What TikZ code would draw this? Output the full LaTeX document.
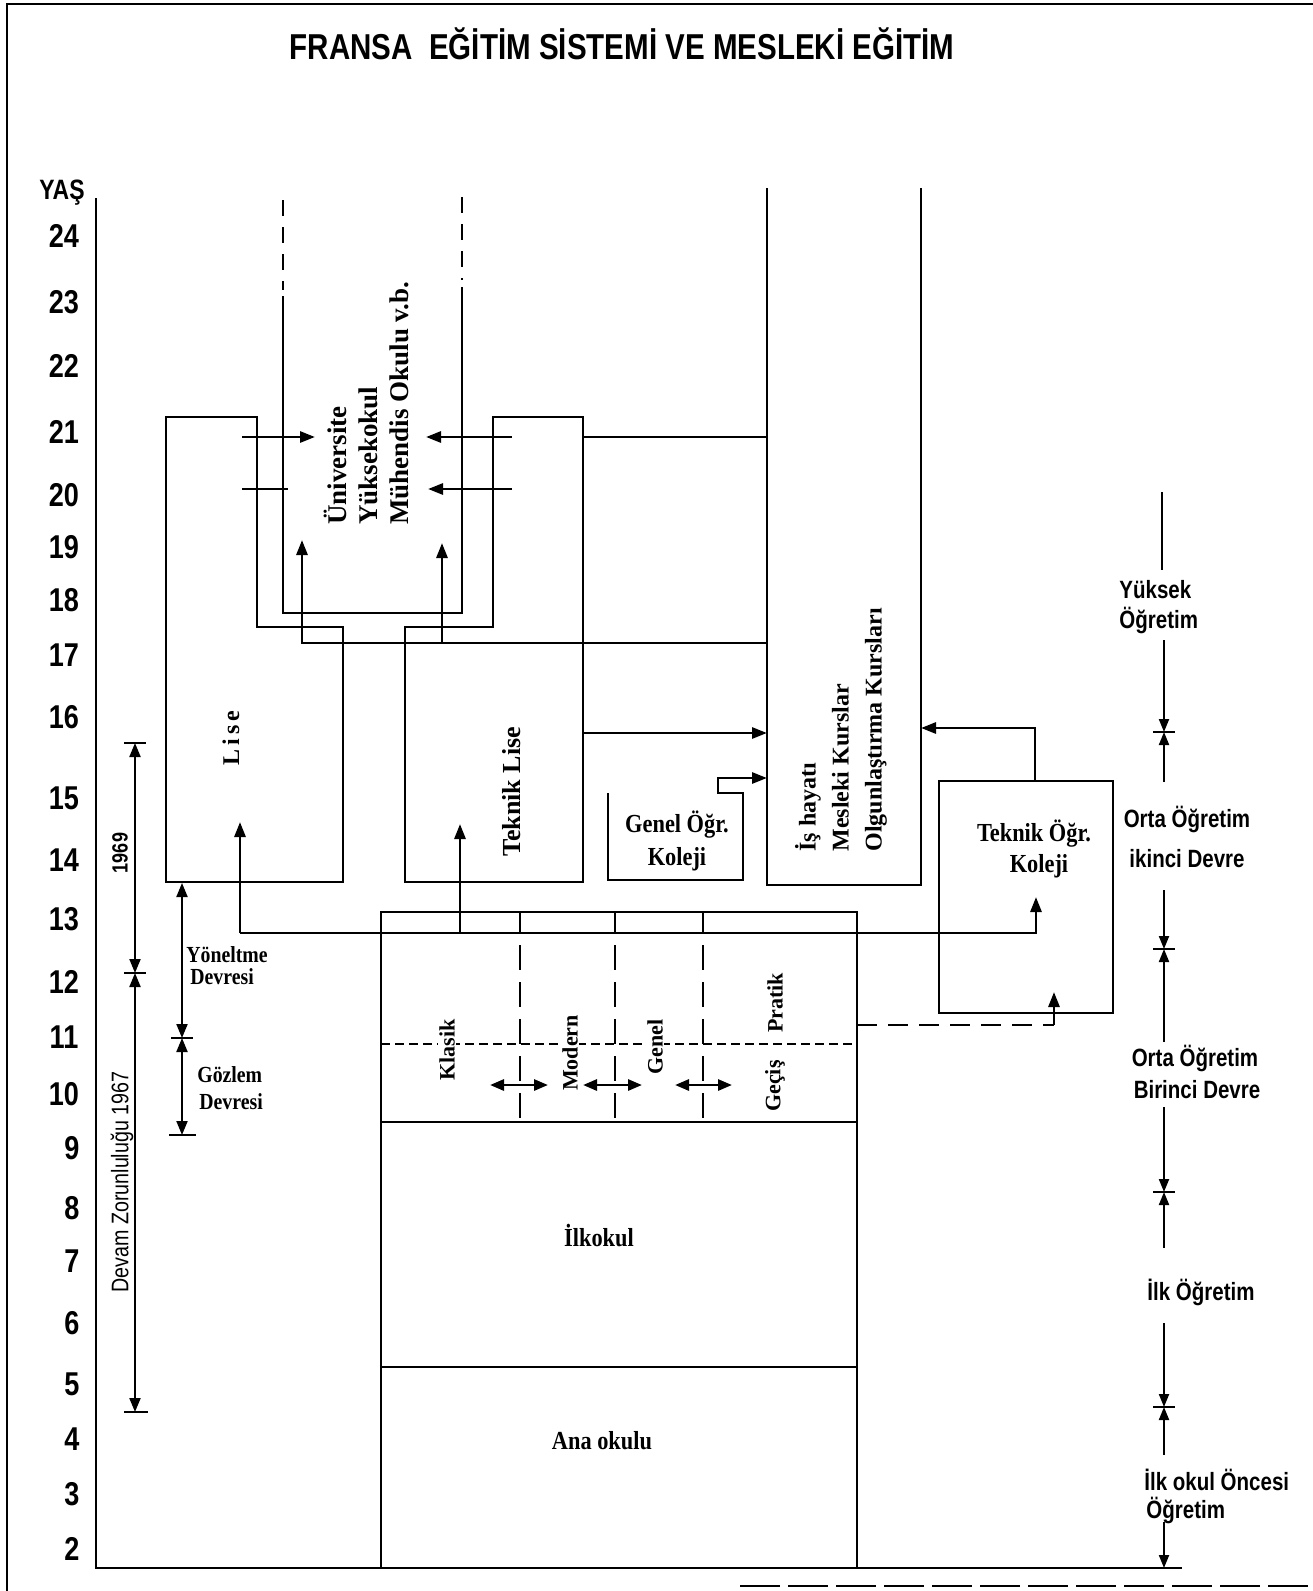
\documentclass[tikz,border=0pt]{standalone}
\usepackage{fontspec}
\setmainfont{Liberation Serif}
\newfontfamily\sansN{Liberation Sans}[FakeStretch=0.82]
\newfontfamily\serifN{Liberation Serif}[FakeStretch=0.86]
\usetikzlibrary{arrows.meta}
\newcommand{\fsz}[2]{\fontsize{#1}{#2}\selectfont}
\begin{document}
\begin{tikzpicture}[x=1pt,y=-1pt,line width=2.8pt,
  arr/.style={-{Triangle[length=15pt,width=11pt]}},
  darr/.style={{Triangle[length=14pt,width=11pt]}-{Triangle[length=14pt,width=11pt]}},
  tarr/.style={line width=2pt,-{Triangle[length=13pt,width=10pt]}},
  tick/.style={line width=2pt},
  agelbl/.style={font=\sansN\bfseries\fsz{33}{33}, text height=24pt, text depth=0pt, inner sep=0pt},
  sidelbl/.style={font=\sansN\bfseries\fsz{25}{25}, text height=18pt, text depth=0pt, inner sep=0pt},
  srf/.style={font=\serifN\bfseries\fsz{26}{26}, text height=17pt, text depth=0pt, inner sep=0pt},
  srfs/.style={font=\serifN\bfseries\fsz{23}{23}, text height=15pt, text depth=0pt, inner sep=0pt, anchor=west},
  vbold/.style={rotate=90, inner sep=0pt, align=left},
  stream/.style={rotate=90, font=\bfseries\fsz{22}{22}, fill=white, inner sep=1.5pt},
  dsh/.style={dash pattern=on 25pt off 12pt},
  topdash/.style={dash pattern=on 16pt off 11pt},
]
\useasboundingbox (0,0) rectangle (1313,1591);

% frame
\draw (7,1591) -- (7,4) -- (1313,4);
\draw[dash pattern=on 40pt off 8pt] (740,1586) -- (1313,1586);

% title
\node[font=\sansN\bfseries\fsz{36}{36}, text height=26pt, text depth=0pt, inner sep=0pt] (title) at (622,46) {FRANSA\ \ EĞİTİM SİSTEMİ VE MESLEKİ EĞİTİM};

% axis
\coordinate (axTop) at (96,198);
\coordinate (axO) at (96,1568);
\coordinate (axEnd) at (1182,1568);
\draw (axTop) -- (axO) -- (axEnd);
\node[font=\sansN\bfseries\fsz{28}{28}, text height=20pt, text depth=0pt, inner sep=0pt] (yas) at (62,189) {YAŞ};
\foreach \a/\y in {24/235,23/301,22/365,21/431,20/494,19/546,18/599,17/654,16/716,15/797,14/859,13/918,12/981,11/1036,10/1093}
  \node[agelbl] (age\a) at (64,\y) {\a};
\foreach \a/\y in {9/1147,8/1207,7/1260,6/1322,5/1383,4/1438,3/1493,2/1548}
  \node[agelbl] (age\a) at (72,\y) {\a};

% Lise
\draw (166,882) -- (166,417) -- (257,417) -- (257,627) -- (343,627) -- (343,882) -- cycle;
\node[rotate=90, font=\bfseries\fsz{24}{24}, inner sep=0pt] (lise) at (231,738) {L\,i\,s\,e};

% Universite
\draw[topdash] (283,200) -- (283,290);
\draw (283,296) -- (283,613) -- (462,613) -- (462,287);
\draw[topdash] (462,197) -- (462,280);
\node[vbold, anchor=west, font=\bfseries\fsz{27}{31}] (univ) at (366,526) {Üniversite\\Yüksekokul\\Mühendis Okulu v.b.};

% Teknik Lise
\draw (583,882) -- (583,417) -- (493,417) -- (493,627) -- (405,627) -- (405,882) -- cycle;
\node[rotate=90, font=\bfseries\fsz{26}{26}, inner sep=0pt] (tlise) at (512,792) {Teknik Lise};

% Genel Ogr. Koleji
\draw[arr] (608,793) -- (608,880) -- (743,880) -- (743,793) -- (718,793) -- (718,778) -- (767,778);
\node[srf] (genel1) at (677,824) {Genel Öğr.};
\node[srf] (genel2) at (677,857) {Koleji};

% Is hayati
\draw (767,188) -- (767,885) -- (921,885) -- (921,188);
\node[vbold, anchor=west, font=\bfseries\fsz{24}{33}] (is) at (841,853) {İş hayatı\\Mesleki Kurslar\\Olgunlaştırma Kursları};

% Teknik Ogr. Koleji
\draw (939,781) rectangle (1113,1013);
\node[srf] (tok1) at (1034,833) {Teknik Öğr.};
\node[srf] (tok2) at (1039,864) {Koleji};
\draw[arr] (1035,781) -- (1035,728) -- (921,728);

% connectors upper part
\draw (583,437) -- (767,437);
\draw[arr] (242,437) -- (315,437);
\draw (242,489) -- (288,489);
\draw[arr] (512,437) -- (426,437);
\draw[arr] (512,489) -- (428,489);
\draw[arr] (767,643) -- (302,643) -- (302,540);
\draw[arr] (442,643) -- (442,543);
\draw[arr] (583,733) -- (767,733);

% lower block
\draw (381,1568) -- (381,912) -- (857,912) -- (857,1568);
\draw[arr] (240,933) -- (240,822);
\draw[arr] (240,933) -- (1036,933) -- (1036,897);
\draw[arr] (460,933) -- (460,824);
\draw (520,912) -- (520,933);
\draw (615,912) -- (615,933);
\draw (703,912) -- (703,933);
\draw (381,1122) -- (857,1122);
\draw (381,1367) -- (857,1367);
\draw[dsh, line width=2.2pt] (520,945) -- (520,1122);
\draw[dsh, line width=2.2pt] (615,945) -- (615,1122);
\draw[dsh, line width=2.2pt] (703,945) -- (703,1122);
\draw[dash pattern=on 9pt off 5pt, line width=2.2pt] (381,1044) -- (857,1044);
\draw[dash pattern=on 20pt off 11pt] (857,1025) -- (1054,1025);
\draw[arr] (1054,1025) -- (1054,992);
\draw[darr] (490,1085) -- (548,1085);
\draw[darr] (583,1085) -- (642,1085);
\draw[darr] (675,1085) -- (732,1085);
\node[stream] (klasik) at (447,1050) {Klasik};
\node[stream] (modern) at (570,1053) {Modern};
\node[stream] (genel) at (655,1047) {Genel};
\node[stream] (pratik) at (775,1003) {Pratik};
\node[stream] (gecis) at (775,1086) {Geçiş};
\node[srf] (ilkokul) at (599,1238) {İlkokul};
\node[srf] (anaokulu) at (602,1441) {Ana okulu};

% left dimensions
\draw[darr, line width=2pt] (135,743) -- (135,973);
\draw[darr, line width=2pt] (135,973) -- (135,1412);
\draw[tick] (124,743) -- (146,743);
\draw[tick] (124,973) -- (146,973);
\draw[tick] (124,1412) -- (148,1412);
\node[rotate=90, font=\sansN\bfseries\fsz{22}{22}, inner sep=0pt] (y1969) at (120,853) {1969};
\node[rotate=90, font=\sansN\fsz{24}{24}, inner sep=0pt] (devam) at (122,1182) {Devam Zorunluluğu 1967};

\draw[darr, line width=2pt] (182,883) -- (182,1038);
\draw[darr, line width=2pt] (182,1038) -- (182,1135);
\draw[tick] (171,1038) -- (193,1038);
\draw[tick] (169,1135) -- (196,1135);
\node[srfs] (yon1) at (185,955) {Yöneltme};
\node[srfs] (yon2) at (189,977) {Devresi};
\node[srfs] (goz1) at (196,1075) {Gözlem};
\node[srfs] (goz2) at (198,1102) {Devresi};

% right timeline
\draw[tick] (1162,492) -- (1162,570);
\draw[tarr] (1164,640) -- (1164,732);
\draw[tarr] (1164,782) -- (1164,732);
\draw[tick] (1153,732) -- (1175,732);
\draw[tarr] (1164,890) -- (1164,949);
\draw[tarr] (1164,1042) -- (1164,949);
\draw[tick] (1153,949) -- (1175,949);
\draw[tarr] (1164,1107) -- (1164,1192);
\draw[tarr] (1164,1248) -- (1164,1192);
\draw[tick] (1153,1192) -- (1175,1192);
\draw[tarr] (1164,1323) -- (1164,1407);
\draw[tarr] (1164,1455) -- (1164,1407);
\draw[tick] (1153,1407) -- (1175,1407);
\draw[tarr] (1164,1522) -- (1164,1568);

\node[sidelbl, anchor=west] (yuk1) at (1118,589) {Yüksek};
\node[sidelbl, anchor=west] (yuk2) at (1118,619) {Öğretim};
\node[sidelbl] (oi1) at (1187,818) {Orta Öğretim};
\node[sidelbl] (oi2) at (1187,858) {ikinci Devre};
\node[sidelbl] (ob1) at (1195,1057) {Orta Öğretim};
\node[sidelbl] (ob2) at (1197,1089) {Birinci Devre};
\node[sidelbl] (ilk) at (1201,1291) {İlk Öğretim};
\node[sidelbl, anchor=west] (ioo1) at (1143,1481) {İlk okul Öncesi};
\node[sidelbl, anchor=west] (ioo2) at (1145,1509) {Öğretim};
\end{tikzpicture}
\end{document}
